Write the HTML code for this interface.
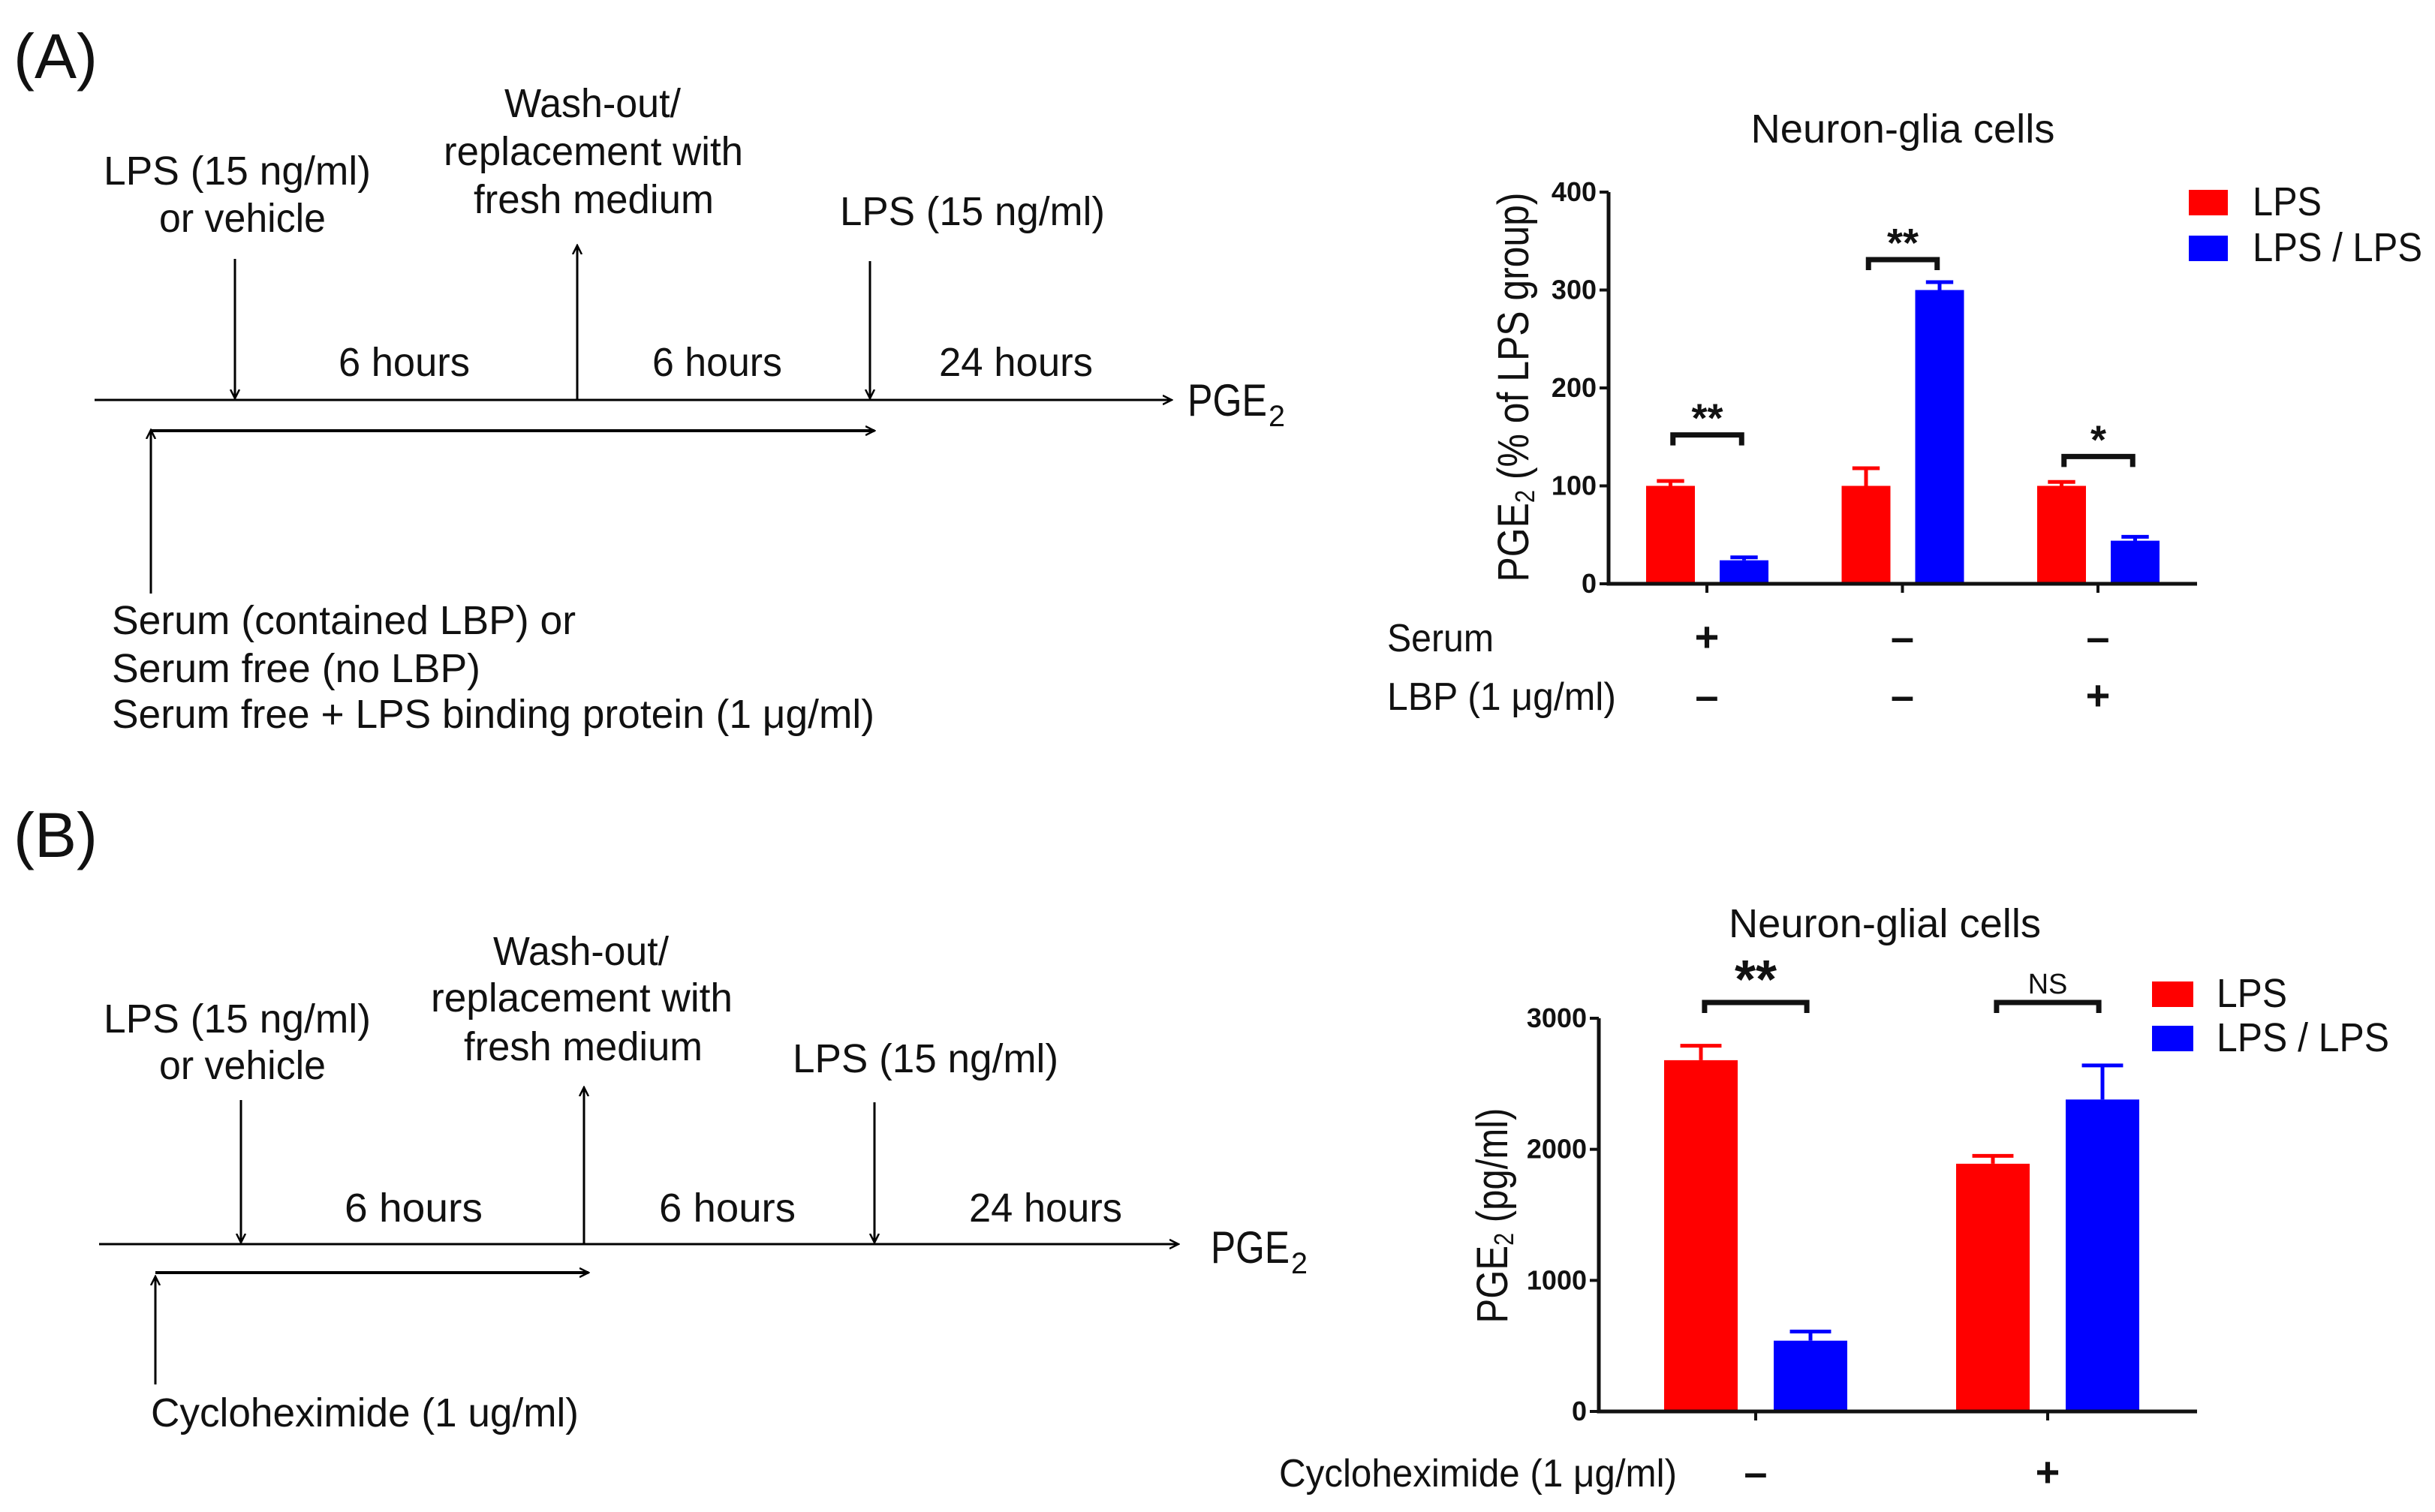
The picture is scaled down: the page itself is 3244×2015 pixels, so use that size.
<!DOCTYPE html>
<html><head><meta charset="utf-8">
<style>
html,body{margin:0;padding:0;background:#fff;overflow:hidden;}
svg{display:block;font-family:"Liberation Sans",Arial,sans-serif;}
</style></head>
<body>
<svg id="fig" width="3244" height="2015" viewBox="0 0 3244 2015" xmlns="http://www.w3.org/2000/svg">
<defs>
<marker id="ah" markerWidth="14" markerHeight="14" refX="12" refY="7" orient="auto" markerUnits="userSpaceOnUse">
<path d="M0,1 L12,7 L0,13" fill="none" stroke="#000" stroke-width="2.5"/>
</marker>
</defs>
<rect width="3244" height="2015" fill="#fff"/>

<!-- Panel A diagram -->
<g fill="#111" font-size="54">
<text x="18" y="104" font-size="84" textLength="112" lengthAdjust="spacingAndGlyphs">(A)</text>
<text x="138" y="246" textLength="356" lengthAdjust="spacingAndGlyphs">LPS (15 ng/ml)</text>
<text x="212" y="309" textLength="222" lengthAdjust="spacingAndGlyphs">or vehicle</text>
<text x="672" y="156" textLength="235" lengthAdjust="spacingAndGlyphs">Wash-out/</text>
<text x="591" y="220" textLength="399" lengthAdjust="spacingAndGlyphs">replacement with</text>
<text x="631" y="284" textLength="320" lengthAdjust="spacingAndGlyphs">fresh medium</text>
<text x="1119" y="300" textLength="353" lengthAdjust="spacingAndGlyphs">LPS (15 ng/ml)</text>
<text x="451" y="501" textLength="175" lengthAdjust="spacingAndGlyphs">6 hours</text>
<text x="869" y="501" textLength="173" lengthAdjust="spacingAndGlyphs">6 hours</text>
<text x="1251" y="501" textLength="205" lengthAdjust="spacingAndGlyphs">24 hours</text>
<text x="1582" y="554" textLength="106" lengthAdjust="spacingAndGlyphs" font-size="60">PGE</text>
<text x="1690" y="568" font-size="40" textLength="22" lengthAdjust="spacingAndGlyphs">2</text>
<text x="149" y="845" textLength="618" lengthAdjust="spacingAndGlyphs">Serum (contained LBP) or</text>
<text x="149" y="909" textLength="491" lengthAdjust="spacingAndGlyphs">Serum free (no LBP)</text>
<text x="149" y="970" textLength="1016" lengthAdjust="spacingAndGlyphs">Serum free + LPS binding protein (1 μg/ml)</text>
<g stroke="#000" stroke-width="3" fill="none">
<line x1="126" y1="533" x2="1561" y2="533" marker-end="url(#ah)"/>
<line x1="313" y1="345" x2="313" y2="531" marker-end="url(#ah)"/>
<line x1="769" y1="533" x2="769" y2="327" marker-end="url(#ah)"/>
<line x1="1159" y1="348" x2="1159" y2="531" marker-end="url(#ah)"/>
<line x1="201" y1="791" x2="201" y2="573" marker-end="url(#ah)"/>
<line x1="201" y1="574" x2="1165" y2="574" marker-end="url(#ah)" stroke-width="4"/>
</g>
</g>

<!-- Panel B diagram -->
<g fill="#111" font-size="54">
<text x="18" y="1142" font-size="84" textLength="112" lengthAdjust="spacingAndGlyphs">(B)</text>
<text x="138" y="1376" textLength="356" lengthAdjust="spacingAndGlyphs">LPS (15 ng/ml)</text>
<text x="212" y="1438" textLength="222" lengthAdjust="spacingAndGlyphs">or vehicle</text>
<text x="657" y="1286" textLength="234" lengthAdjust="spacingAndGlyphs">Wash-out/</text>
<text x="574" y="1348" textLength="402" lengthAdjust="spacingAndGlyphs">replacement with</text>
<text x="618" y="1413" textLength="318" lengthAdjust="spacingAndGlyphs">fresh medium</text>
<text x="1056" y="1429" textLength="354" lengthAdjust="spacingAndGlyphs">LPS (15 ng/ml)</text>
<text x="459" y="1628" textLength="184" lengthAdjust="spacingAndGlyphs">6 hours</text>
<text x="878" y="1628" textLength="182" lengthAdjust="spacingAndGlyphs">6 hours</text>
<text x="1291" y="1628" textLength="204" lengthAdjust="spacingAndGlyphs">24 hours</text>
<text x="1613" y="1683" textLength="105" lengthAdjust="spacingAndGlyphs" font-size="60">PGE</text>
<text x="1720" y="1697" font-size="40" textLength="22" lengthAdjust="spacingAndGlyphs">2</text>
<text x="201" y="1901" textLength="570" lengthAdjust="spacingAndGlyphs">Cycloheximide (1 ug/ml)</text>
<g stroke="#000" stroke-width="3" fill="none">
<line x1="132" y1="1658" x2="1570" y2="1658" marker-end="url(#ah)"/>
<line x1="321" y1="1466" x2="321" y2="1656" marker-end="url(#ah)"/>
<line x1="778" y1="1658" x2="778" y2="1449" marker-end="url(#ah)"/>
<line x1="1165" y1="1469" x2="1165" y2="1656" marker-end="url(#ah)"/>
<line x1="207" y1="1845" x2="207" y2="1701" marker-end="url(#ah)"/>
<line x1="207" y1="1696" x2="784" y2="1696" marker-end="url(#ah)" stroke-width="4"/>
</g>
</g>

<g id="chartA"></g>
<g id="chartB"></g>
</svg>
<script>
// ---- Chart A data ----
const aGroups = ["serum+ LBP-", "serum- LBP-", "serum- LBP+"];
const aLPS = [100, 100, 100];
const aLPSerr = [5, 18, 4];
const aLPSLPS = [24, 300, 44];
const aLPSLPSerr = [3, 8, 4];
const aTicks = [0, 100, 200, 300, 400];
const aSig = ["**", "**", "*"];
const aSigLevel = [152, 331, 130];
const aSerumRow = ["+", "–", "–"];
const aLbpRow = ["–", "–", "+"];
// ---- Chart B data ----
const bGroups = ["cyclo-", "cyclo+"];
const bLPS = [2680, 1890];
const bLPSerr = [110, 60];
const bLPSLPS = [540, 2380];
const bLPSLPSerr = [70, 260];
const bTicks = [0, 1000, 2000, 3000];
const bSig = ["**", "NS"];
const bSigLevel = [3120, 3120];
const bCycloRow = ["–", "+"];

const NS = "http://www.w3.org/2000/svg";
function mk(parent, tag, attrs, text) {
  const e = document.createElementNS(NS, tag);
  for (const k in attrs) e.setAttribute(k, attrs[k]);
  if (text !== undefined) e.textContent = text;
  parent.appendChild(e);
  return e;
}
const RED = "#ff0000", BLUE = "#0000ff";

function drawChart(g, cfg) {
  const y = v => cfg.y0 - v * (cfg.y0 - cfg.yTop) / cfg.max;
  const gx = i => cfg.c0 + i * cfg.step;
  let t = mk(g, "text", {x: cfg.titleX, y: cfg.titleY, "text-anchor": "middle", "font-size": 54, fill: "#111", textLength: cfg.titleLen, lengthAdjust: "spacingAndGlyphs"}, cfg.title);
  
  
  cfg.groups.forEach((grp, i) => {
    const series = [[cfg.s1, cfg.e1, RED, gx(i) + cfg.off1, 'bar-lps-' + i], [cfg.s2, cfg.e2, BLUE, gx(i) + cfg.off2, 'bar-lps-lps-' + i]];
    series.forEach(([s, e, col, x, nm]) => {
      const top = y(s[i]);
      const r = mk(g, "rect", {x: x, y: top, width: cfg.bw, height: cfg.y0 - top, fill: col});
      
      
      const et = y(s[i] + e[i]);
      const cx = x + cfg.bw / 2;
      const eb = mk(g, "path", {d: `M${cx},${top} L${cx},${et} M${cx - cfg.bw * 0.28},${et} L${cx + cfg.bw * 0.28},${et}`, stroke: col, "stroke-width": 5, fill: "none"});
      
      
    });
    const by = y(cfg.sigLevel[i]);
    const x1 = gx(i) + cfg.off1 + cfg.bw * 0.55, x2 = gx(i) + cfg.off2 + cfg.bw * 0.45;
    const br = mk(g, "path", {d: `M${x1},${by + 14} L${x1},${by} L${x2},${by} L${x2},${by + 14}`, stroke: "#111", "stroke-width": 7, fill: "none"});
    
    
    const big = cfg.sig[i] !== "NS";
    const st = mk(g, "text", {x: (x1 + x2) / 2, y: by - (big ? cfg.starGap : 12), "text-anchor": "middle", "font-size": big ? cfg.starSize : 38, "font-weight": big ? "bold" : "normal", fill: "#111"}, cfg.sig[i]);
    
    
    const xt = mk(g, "line", {x1: gx(i), y1: cfg.y0, x2: gx(i), y2: cfg.y0 + 12, stroke: "#111", "stroke-width": 4});
    
    
    cfg.rows.forEach((row, ri) => {
      const rl = mk(g, "text", {x: gx(i), y: cfg.rowY[ri], "text-anchor": "middle", "font-size": 56, "font-weight": "bold", fill: "#111"}, row.vals[i]);
      
      
    });
  });
  cfg.rows.forEach((row, ri) => {
    const rn = mk(g, "text", {x: cfg.rowX, y: cfg.rowY[ri], "font-size": 52, fill: "#111", textLength: row.len, lengthAdjust: "spacingAndGlyphs"}, row.name);
    
    
  });
  const ax = mk(g, "path", {d: `M${cfg.ax},${cfg.yTop} L${cfg.ax},${cfg.y0} L${cfg.axEnd},${cfg.y0}`, stroke: "#111", "stroke-width": 5, fill: "none"});
  
  
  cfg.ticks.forEach(v => {
    const tl = mk(g, "line", {x1: cfg.ax - 12, y1: y(v), x2: cfg.ax, y2: y(v), stroke: "#111", "stroke-width": 4});
    
    
    const tx = mk(g, "text", {x: cfg.ax - 16, y: y(v) + 12, "text-anchor": "end", "font-size": 36, "font-weight": "bold", fill: "#111"}, String(v));
    
    
  });
  const yl = mk(g, "text", {x: 0, y: 0, "text-anchor": "middle", "font-size": 58, fill: "#111", textLength: cfg.ylLen, lengthAdjust: "spacingAndGlyphs", transform: `translate(${cfg.ylX},${cfg.ylY}) rotate(-90)`});
  
  
  mk(yl, "tspan", {}, "PGE");
  mk(yl, "tspan", {dy: 8, "font-size": 36}, "2");
  mk(yl, "tspan", {dy: -8}, cfg.ylRest);
  [[RED, "LPS", cfg.legY[0], cfg.legLen[0]], [BLUE, "LPS / LPS", cfg.legY[1], cfg.legLen[1]]].forEach(([c, lab, ly, len]) => {
    const sq = mk(g, "rect", {x: cfg.legX, y: ly, width: cfg.legW, height: cfg.legH, fill: c});
    
    
    const lt = mk(g, "text", {x: cfg.legTX, y: ly + cfg.legH, "font-size": 54, fill: "#111", textLength: len, lengthAdjust: "spacingAndGlyphs"}, lab);
    
    
  });
}

drawChart(document.getElementById('chartA'), {
  title: "Neuron-glia cells", titleX: 2535, titleY: 190, titleLen: 405,
  groups: aGroups, s1: aLPS, e1: aLPSerr, s2: aLPSLPS, e2: aLPSLPSerr,
  ticks: aTicks, max: 400, y0: 778, yTop: 256, ax: 2143, axEnd: 2927,
  c0: 2274, step: 260.5, off1: -81, off2: 17, bw: 65,
  sig: aSig, sigLevel: aSigLevel, starSize: 54, starGap: 4,
  rows: [{name: "Serum", vals: aSerumRow, len: 142}, {name: "LBP (1 μg/ml)", vals: aLbpRow, len: 305}],
  rowX: 1848, rowY: [868, 946],
  ylX: 2036, ylY: 516, ylLen: 519, ylRest: " (% of LPS group)",
  legX: 2916, legY: [253, 314], legW: 52, legH: 34, legTX: 3001, legLen: [92, 226]
});
drawChart(document.getElementById('chartB'), {
  title: "Neuron-glial cells", titleX: 2511, titleY: 1249, titleLen: 416,
  groups: bGroups, s1: bLPS, e1: bLPSerr, s2: bLPSLPS, e2: bLPSLPSerr,
  ticks: bTicks, max: 3000, y0: 1881, yTop: 1357, ax: 2130, axEnd: 2927,
  c0: 2339, step: 389, off1: -122, off2: 24, bw: 98,
  sig: bSig, sigLevel: bSigLevel, starSize: 72, starGap: 6,
  rows: [{name: "Cycloheximide (1 μg/ml)", vals: bCycloRow, len: 530}],
  rowX: 1704, rowY: [1981],
  ylX: 2008, ylY: 1620, ylLen: 287, ylRest: " (pg/ml)",
  legX: 2867, legY: [1308, 1367], legW: 55, legH: 34, legTX: 2953, legLen: [94, 230]
});
</script>
</body></html>
